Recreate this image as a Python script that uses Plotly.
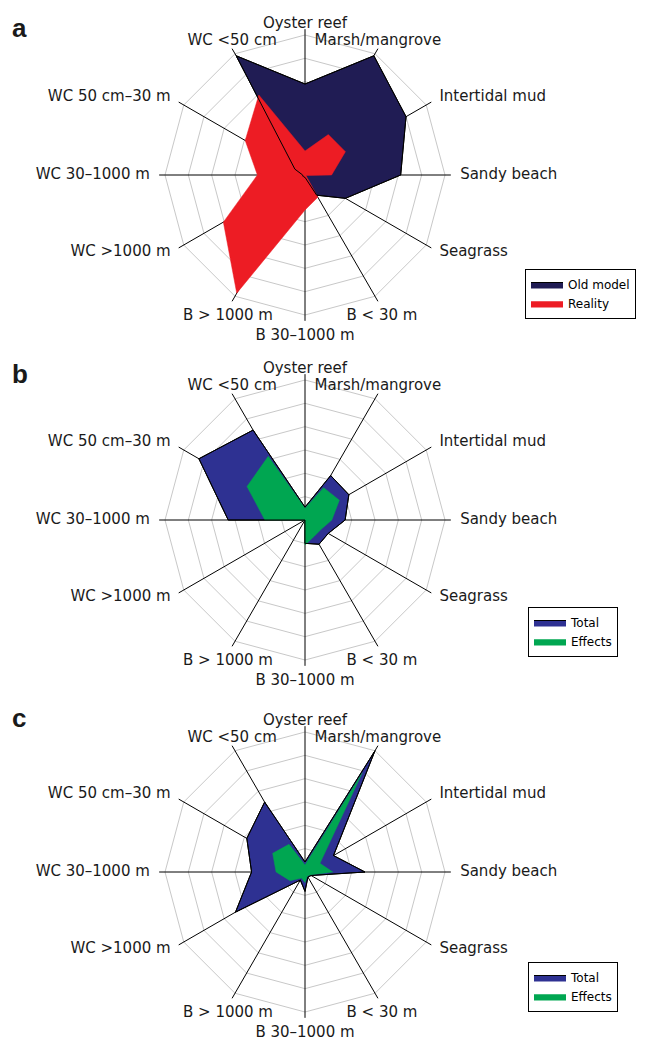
import plotly.graph_objects as go

categories = ["Oyster reef", "Marsh/mangrove", "Intertidal mud", "Sandy beach",
              "Seagrass", "B < 30 m", "B 30\u20131000 m", "B > 1000 m",
              "WC >1000 m", "WC 30\u20131000 m", "WC 50 cm\u201330 m", "WC <50 cm"]

# panel a
old_model = [3.9, 5.9, 5.0, 4.1, 2.0, 1.0, 0.1, 0.1, 0.1, 0.1, 0.5, 5.9]
reality = [1.03, 2.0, 2.0, 1.14, 0.05, 1.1, 1.5, 5.85, 4.04, 2.04, 2.96, 3.96]
# panel b
b_total = [0.55, 2.2, 2.17, 1.72, 1.15, 1.2, 1.0, 0.0, 0.0, 3.29, 5.25, 4.45]
b_effects = [0.5, 1.6, 1.7, 1.15, 0.8, 0.8, 1.07, 0.0, 0.0, 1.72, 2.87, 3.15]
# panel c
c_total = [0.43, 6.0, 1.41, 2.57, 0.3, 0.25, 0.83, 0.4, 3.44, 2.29, 2.88, 3.46]
c_effects = [0.3, 4.9, 0.74, 1.19, 0.25, 0.2, 0.45, 0.3, 0.74, 1.24, 1.6, 1.37]

ring_vals = [1, 2, 3, 4, 5, 6]
R_RANGE = 6.75
SPOKE_R = 6.25

# label groups: (indices, radius, textposition)
label_groups = [
    ([0], 6.15, "top center"),
    ([1, 11], 6.25, "top center"),
    ([2, 3, 4], 6.65, "middle right"),
    ([8, 9, 10], 6.65, "middle left"),
    ([5, 6, 7], 6.6, "bottom center"),
]

NAVY = "#201C54"
RED = "#ED1C24"
BLUE = "#2E3192"
GREEN = "#00A651"

W, H = 646, 1041
CX = 305
centers_y = [175, 520, 872]
rad_px = 140 * R_RANGE / 6.0

fig = go.Figure()

panels = [
    ("polar", "legend", old_model, "Old model", NAVY, reality, "Reality", RED),
    ("polar2", "legend2", b_total, "Total", BLUE, b_effects, "Effects", GREEN),
    ("polar3", "legend3", c_total, "Total", BLUE, c_effects, "Effects", GREEN),
]

def closed(v):
    return list(v) + [v[0]]

theta_c = closed(categories)

spoke_r, spoke_t = [], []
for c in categories:
    spoke_r += [0, SPOKE_R, None]
    spoke_t += [c, c, c]

for sub, leg, v1, n1, c1, v2, n2, c2 in panels:
    fig.add_trace(go.Scatterpolar(
        r=spoke_r, theta=spoke_t, subplot=sub, showlegend=False, mode="lines",
        connectgaps=False, line=dict(color="black", width=1), hoverinfo="skip"))
    fig.add_trace(go.Scatterpolar(
        r=closed(v1), theta=theta_c, subplot=sub, legend=leg, name=n1,
        mode="lines", fill="toself", fillcolor=c1,
        line=dict(color="black", width=1), hoverinfo="skip"))
    fig.add_trace(go.Scatterpolar(
        r=closed(v2), theta=theta_c, subplot=sub, legend=leg, name=n2,
        mode="lines", fill="toself", fillcolor=c2,
        line=dict(color=c2, width=0.5), hoverinfo="skip"))
    fig.add_trace(go.Scatterpolar(
        r=closed(v1), theta=theta_c, subplot=sub, showlegend=False,
        mode="lines", line=dict(color="black", width=1), hoverinfo="skip"))
    for idx, rr, pos in label_groups:
        fig.add_trace(go.Scatterpolar(
            r=[rr] * len(idx), theta=[categories[i] for i in idx], subplot=sub,
            showlegend=False, mode="text", text=[categories[i] for i in idx],
            textposition=pos, cliponaxis=False,
            textfont=dict(family="DejaVu Sans", size=15, color="#1a1a1a"),
            hoverinfo="skip"))

def polar_layout(cy):
    return dict(
        domain=dict(x=[(CX - rad_px) / W, (CX + rad_px) / W],
                    y=[(H - cy - rad_px) / H, (H - cy + rad_px) / H]),
        bgcolor="white",
        gridshape="linear",
        radialaxis=dict(range=[0, R_RANGE], tickvals=ring_vals, showticklabels=False,
                        ticks="", showline=False, gridcolor="#c8c8c8", gridwidth=1),
        angularaxis=dict(direction="clockwise", rotation=90, showline=False,
                         showticklabels=False, ticks="", showgrid=False,
                         categoryorder="array", categoryarray=categories),
    )

def legend_layout(x, y):
    return dict(x=x, y=y, xanchor="left", yanchor="top", bgcolor="white",
                bordercolor="black", borderwidth=1, itemwidth=32,
                font=dict(family="DejaVu Sans", size=12, color="black"),
                tracegroupgap=0)

fig.update_layout(
    width=W, height=H,
    margin=dict(l=0, r=0, t=0, b=0, autoexpand=False),
    paper_bgcolor="white",
    showlegend=True,
    polar=polar_layout(centers_y[0]),
    polar2=polar_layout(centers_y[1]),
    polar3=polar_layout(centers_y[2]),
    legend=legend_layout(525 / W, 1 - 269 / H),
    legend2=legend_layout(528 / W, 1 - 607 / H),
    legend3=legend_layout(528 / W, 1 - 962 / H),
)

for letter, ycen in [("a", 28), ("b", 374), ("c", 718)]:
    fig.add_annotation(text="<b>%s</b>" % letter, xref="paper", yref="paper",
                       x=10 / W, y=1 - ycen / H, xanchor="left", yanchor="middle",
                       showarrow=False,
                       font=dict(family="Liberation Sans", size=26, color="#1a1a1a"))

fig.write_html("out.html", config={"displayModeBar": False},
               post_script="document.body.style.margin='0';document.body.style.overflow='hidden';")
